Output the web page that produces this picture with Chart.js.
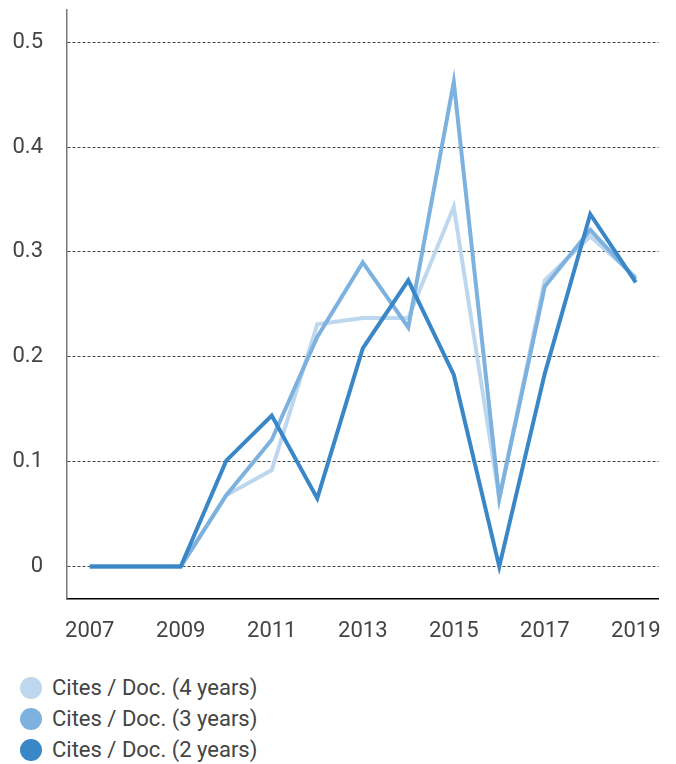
<!DOCTYPE html>
<html>
<head>
<meta charset="utf-8">
<script src="https://cdn.jsdelivr.net/npm/chart.js@4/dist/chart.umd.min.js"></script>
<style>
  html, body { margin: 0; padding: 0; background: #fff; }
  #wrap { position: relative; width: 676px; height: 764px; font-family: Roboto, sans-serif; overflow: hidden; }
  #box { position: absolute; left: 0; top: -27px; width: 681px; height: 692px; }
  #legend { position: absolute; left: 20px; top: 672px; }
  .item { display: flex; align-items: center; height: 31px; font-size: 22px; color: #444; }
  .dot { width: 22px; height: 22px; border-radius: 50%; margin-right: 10px; }
</style>
</head>
<body>
<div id="wrap">
  <div id="box"><canvas id="citesChart"></canvas></div>
  <div id="legend"></div>
</div>
<script>
const years = ['2007', '2008', '2009', '2010', '2011', '2012', '2013', '2014', '2015', '2016', '2017', '2018', '2019'];
const cites4 = [0, 0, 0, 0.068, 0.092, 0.231, 0.237, 0.237, 0.343, 0.065, 0.273, 0.315, 0.276];
const cites3 = [0, 0, 0, 0.068, 0.121, 0.219, 0.290, 0.228, 0.462, 0.065, 0.267, 0.321, 0.274];
const cites2 = [0, 0, 0, 0.101, 0.144, 0.065, 0.208, 0.273, 0.183, 0, 0.184, 0.336, 0.271];
const yTicks = [0, 0.1, 0.2, 0.3, 0.4, 0.5];

const series = [
    { label: 'Cites / Doc. (4 years)', data: cites4, color: '#bdd7ee' },
    { label: 'Cites / Doc. (3 years)', data: cites3, color: '#7db2df' },
    { label: 'Cites / Doc. (2 years)', data: cites2, color: '#3a87c8' }
];

// legend in same order as the picture
const legend = document.getElementById('legend');
series.forEach(s => {
    const row = document.createElement('div');
    row.className = 'item';
    row.innerHTML = '<span class="dot" style="background:' + s.color + '"></span>' + s.label;
    legend.appendChild(row);
});

Chart.defaults.font.family = 'Roboto, sans-serif';
Chart.defaults.color = '#444';

var ctx = document.getElementById('citesChart').getContext('2d');
// reversed so the 2 years line sits on top
var citesChart = new Chart(ctx, {
    type: 'line',
    data: {
        labels: years,
        datasets: series.slice().reverse().map(s => ({
            label: s.label,
            data: s.data,
            borderColor: s.color,
            backgroundColor: s.color,
            borderWidth: 4,
            pointRadius: 0,
            tension: 0,
            fill: false
        }))
    },
    options: {
        responsive: true,
        maintainAspectRatio: false,
        animation: false,
        layout: { padding: { top: 8, right: 13, left: 0, bottom: 0 } },
        scales: {
            x: {
                offset: true,
                grid: { display: false, drawTicks: false },
                border: { display: true, color: '#000', width: 1.5 },
                ticks: {
                    autoSkip: false,
                    maxRotation: 0,
                    padding: 20,
                    font: { size: 22 },
                    callback: function (v, i) { return i % 2 === 0 ? years[i] : ''; }
                }
            },
            y: {
                min: -0.0305,
                max: 0.5305,
                afterBuildTicks: function (axis) { axis.ticks = yTicks.map(v => ({ value: v })); },
                afterFit: function (axis) { axis.width = 67; },
                grid: { color: '#444', lineWidth: 1, drawTicks: false },
                border: { display: true, color: '#777', width: 1.5, dash: [3, 2] },
                ticks: {
                    padding: 24,
                    font: { size: 22 },
                    callback: function (v) { return v === 0 ? '0' : v.toFixed(1); }
                }
            }
        },
        plugins: {
            legend: { display: false },
            tooltip: { enabled: false }
        }
    }
});
</script>
</body>
</html>
